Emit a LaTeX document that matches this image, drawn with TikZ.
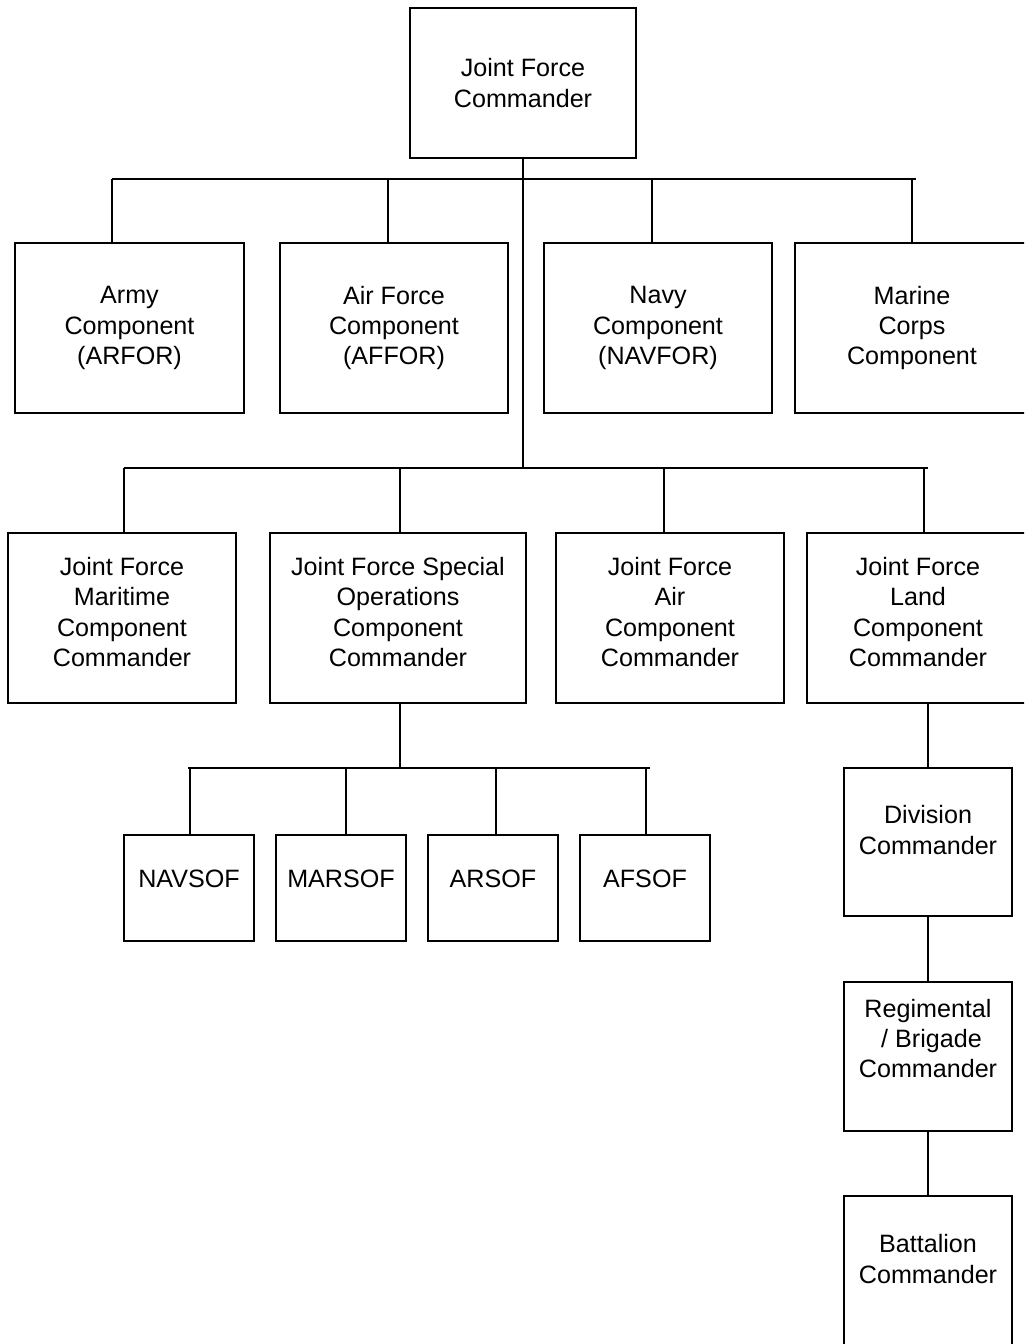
\documentclass[tikz,border=0pt]{standalone}
\usepackage{fontspec}
\setmainfont{Liberation Sans}
\begin{document}
\begin{tikzpicture}[x=0.02cm,y=-0.02cm,
    box/.style={draw,line width=1pt,inner sep=0pt,align=center,font=\fontsize{14.3}{17.2}\selectfont,minimum width=4.56cm,minimum height=3.4cm},
    sofbox/.style={box,minimum width=2.6cm,minimum height=2.12cm,text depth=11pt},
    fourline/.style={text depth=7pt},
    colbox/.style={box,minimum width=3.36cm,minimum height=2.96cm},
    boxtext/.style={inner sep=0pt,align=center,font=\fontsize{14.3}{17.2}\selectfont},
    link/.style={line width=1pt}]
    \useasboundingbox (0,0) rectangle (1024,1344);
    \clip (0,0) rectangle (1024,1344);

    % top
    \node[box,minimum width=4.52cm,minimum height=3cm] (jfc) at (523,83) {Joint Force\\Commander};

    % service components
    \node[box,minimum width=4.58cm] (army) at (129.5,328) {Army\\Component\\(ARFOR)};
    \node[box] (afor) at (394,328) {Air Force\\Component\\(AFFOR)};
    \node[box] (navy) at (658,328) {Navy\\Component\\(NAVFOR)};
    \node[box,minimum width=4.68cm] (marine) at (912,328) {Marine\\Corps\\Component};

    % functional components
    \node[box,fourline] (jfmcc) at (122,618) {Joint Force\\Maritime\\Component\\Commander};
    \node[box,fourline,minimum width=5.12cm] (jfsocc) at (398,618) {Joint Force Special\\Operations\\Component\\Commander};
    \node[box,fourline] (jfacc) at (670,618) {Joint Force\\Air\\Component\\Commander};
    \node[box,fourline,minimum width=4.44cm] (jflcc) at (918,618) {Joint Force\\Land\\Component\\Commander};

    % sof
    \node[sofbox] (navsof) at (189,888) {NAVSOF};
    \node[sofbox] (marsof) at (341,888) {MARSOF};
    \node[sofbox] (arsof) at (493,888) {ARSOF};
    \node[sofbox] (afsof) at (645,888) {AFSOF};

    % land chain
    \node[colbox] (div) at (928,842) {};
    \node[boxtext] (divtext) at (928,830) {Division\\Commander};
    \node[colbox,minimum height=2.98cm] (reg) at (928,1056.5) {};
    \node[boxtext] (regtext) at (928,1038.5) {Regimental\\\mbox{}\ / Brigade\\Commander};
    \node[colbox,minimum height=3.12cm] (bat) at (928,1274) {};
    \node[boxtext] (battext) at (928,1259) {Battalion\\Commander};

    % buses
    \coordinate (bus1w) at (112,179);
    \coordinate (bus1e) at (916,179);
    \coordinate (bus2w) at (124,468);
    \coordinate (bus2e) at (928,468);
    \coordinate (bus3w) at (188,768);
    \coordinate (bus3e) at (650,768);
    \coordinate (bus3) at (400,768);

    \draw[link] (jfc.south) -- (jfc.south |- bus2w);
    \draw[link] (bus1w) -- (bus1e);
    \draw[link] (bus2w) -- (bus2e);
    \draw[link] (bus3w) -- (bus3e);

    % drops
    \coordinate (a1) at (112,179);
    \coordinate (a2) at (388,179);
    \coordinate (a3) at (652,179);
    \coordinate (a4) at (912,179);
    \draw[link] (a1) -- (a1 |- army.north);
    \draw[link] (a2) -- (a2 |- afor.north);
    \draw[link] (a3) -- (a3 |- navy.north);
    \draw[link] (a4) -- (a4 |- marine.north);

    \coordinate (b1) at (124,468);
    \coordinate (b2) at (400,468);
    \coordinate (b3) at (664,468);
    \coordinate (b4) at (924,468);
    \draw[link] (b1) -- (b1 |- jfmcc.north);
    \draw[link] (b2) -- (b2 |- jfsocc.north);
    \draw[link] (b3) -- (b3 |- jfacc.north);
    \draw[link] (b4) -- (b4 |- jflcc.north);

    \draw[link] (bus3 |- jfsocc.south) -- (bus3);
    \coordinate (c1) at (190,768);
    \coordinate (c2) at (346,768);
    \coordinate (c3) at (496,768);
    \coordinate (c4) at (646,768);
    \draw[link] (c1) -- (c1 |- navsof.north);
    \draw[link] (c2) -- (c2 |- marsof.north);
    \draw[link] (c3) -- (c3 |- arsof.north);
    \draw[link] (c4) -- (c4 |- afsof.north);

    \draw[link] (div.north |- jflcc.south) -- (div.north);
    \draw[link] (div) -- (reg);
    \draw[link] (reg) -- (bat);
\end{tikzpicture}
\end{document}
